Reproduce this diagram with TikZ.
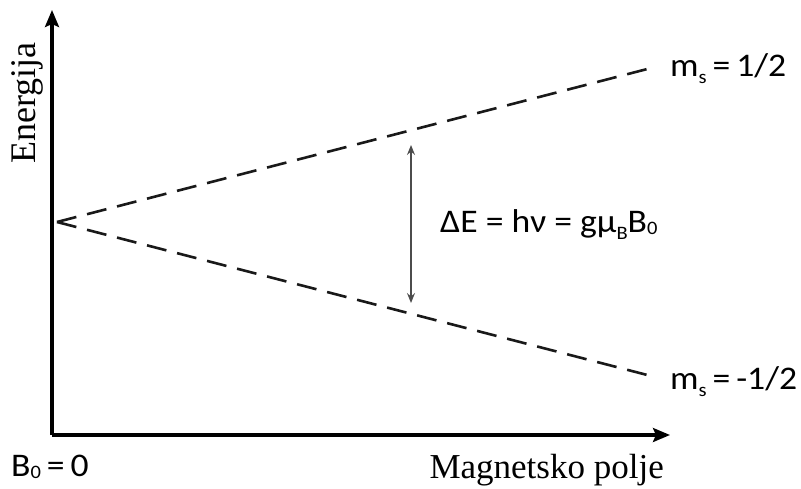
\documentclass[tikz,border=0pt]{standalone}
\usepackage{fontspec}
\setmainfont{Liberation Serif}
\newfontfamily\lbl{Carlito}
\newcommand{\subtxt}[2][-0.35ex]{\raisebox{#1}{\fontsize{19}{19}\selectfont #2}}
\usetikzlibrary{arrows.meta}
\begin{document}
\begin{tikzpicture}[x=1pt,y=-1pt,
  axis/.style={line width=3.2pt,-{Stealth[length=17pt,width=14pt,inset=3pt]}},
  level/.style={line width=2.6pt,dash pattern=on 20pt off 11pt,black!90},
  gap/.style={line width=1.4pt,black!70,{Stealth[length=10pt,width=8pt,inset=3.5pt]}-{Stealth[length=10pt,width=8pt,inset=3.5pt]}},
  sanslbl/.style={font=\lbl\fontsize{33}{35}\selectfont,inner sep=0pt,xscale=1.08},
  seriflbl/.style={font=\fontsize{36}{38}\selectfont,inner sep=0pt}]
\useasboundingbox (0,0) rectangle (801,488);
\coordinate (O) at (52,435);
\coordinate (ytip) at (52,10);
\coordinate (xtip) at (670,435);
\coordinate (S) at (57,222);
\coordinate (up) at (655,67);
\coordinate (dn) at (655,377);
\coordinate (gt) at (411,145);
\coordinate (gb) at (411,303);
\draw[axis] (O) -- (ytip);
\draw[axis] (O) -- (xtip);
\draw[level] (S) -- (up);
\draw[level] (S) -- (dn);
\draw[gap] (gt) -- (gb);
\node[sanslbl,anchor=base west] (mu) at (670,76) {m\subtxt[-0.5ex]{s}\,=\,1/2};
\node[sanslbl,anchor=base west] (md) at (670,389) {m\subtxt[-0.5ex]{s}\,=\,-1/2};
\node[sanslbl,anchor=base west] (de) at (440,232) {ΔE = hν = gμ\subtxt[-0.45ex]{B}B\subtxt[-0.15ex]{0}};
\node[sanslbl,anchor=base west] (b0) at (11,476) {B\subtxt[-0.15ex]{0}\,=\,0};
\node[seriflbl,anchor=base east,font=\fontsize{35}{37}\selectfont] (mp) at (664,478) {Magnetsko polje};
\node[seriflbl,rotate=90,anchor=base] (en) at (35,103) {Energija};
\end{tikzpicture}
\end{document}
